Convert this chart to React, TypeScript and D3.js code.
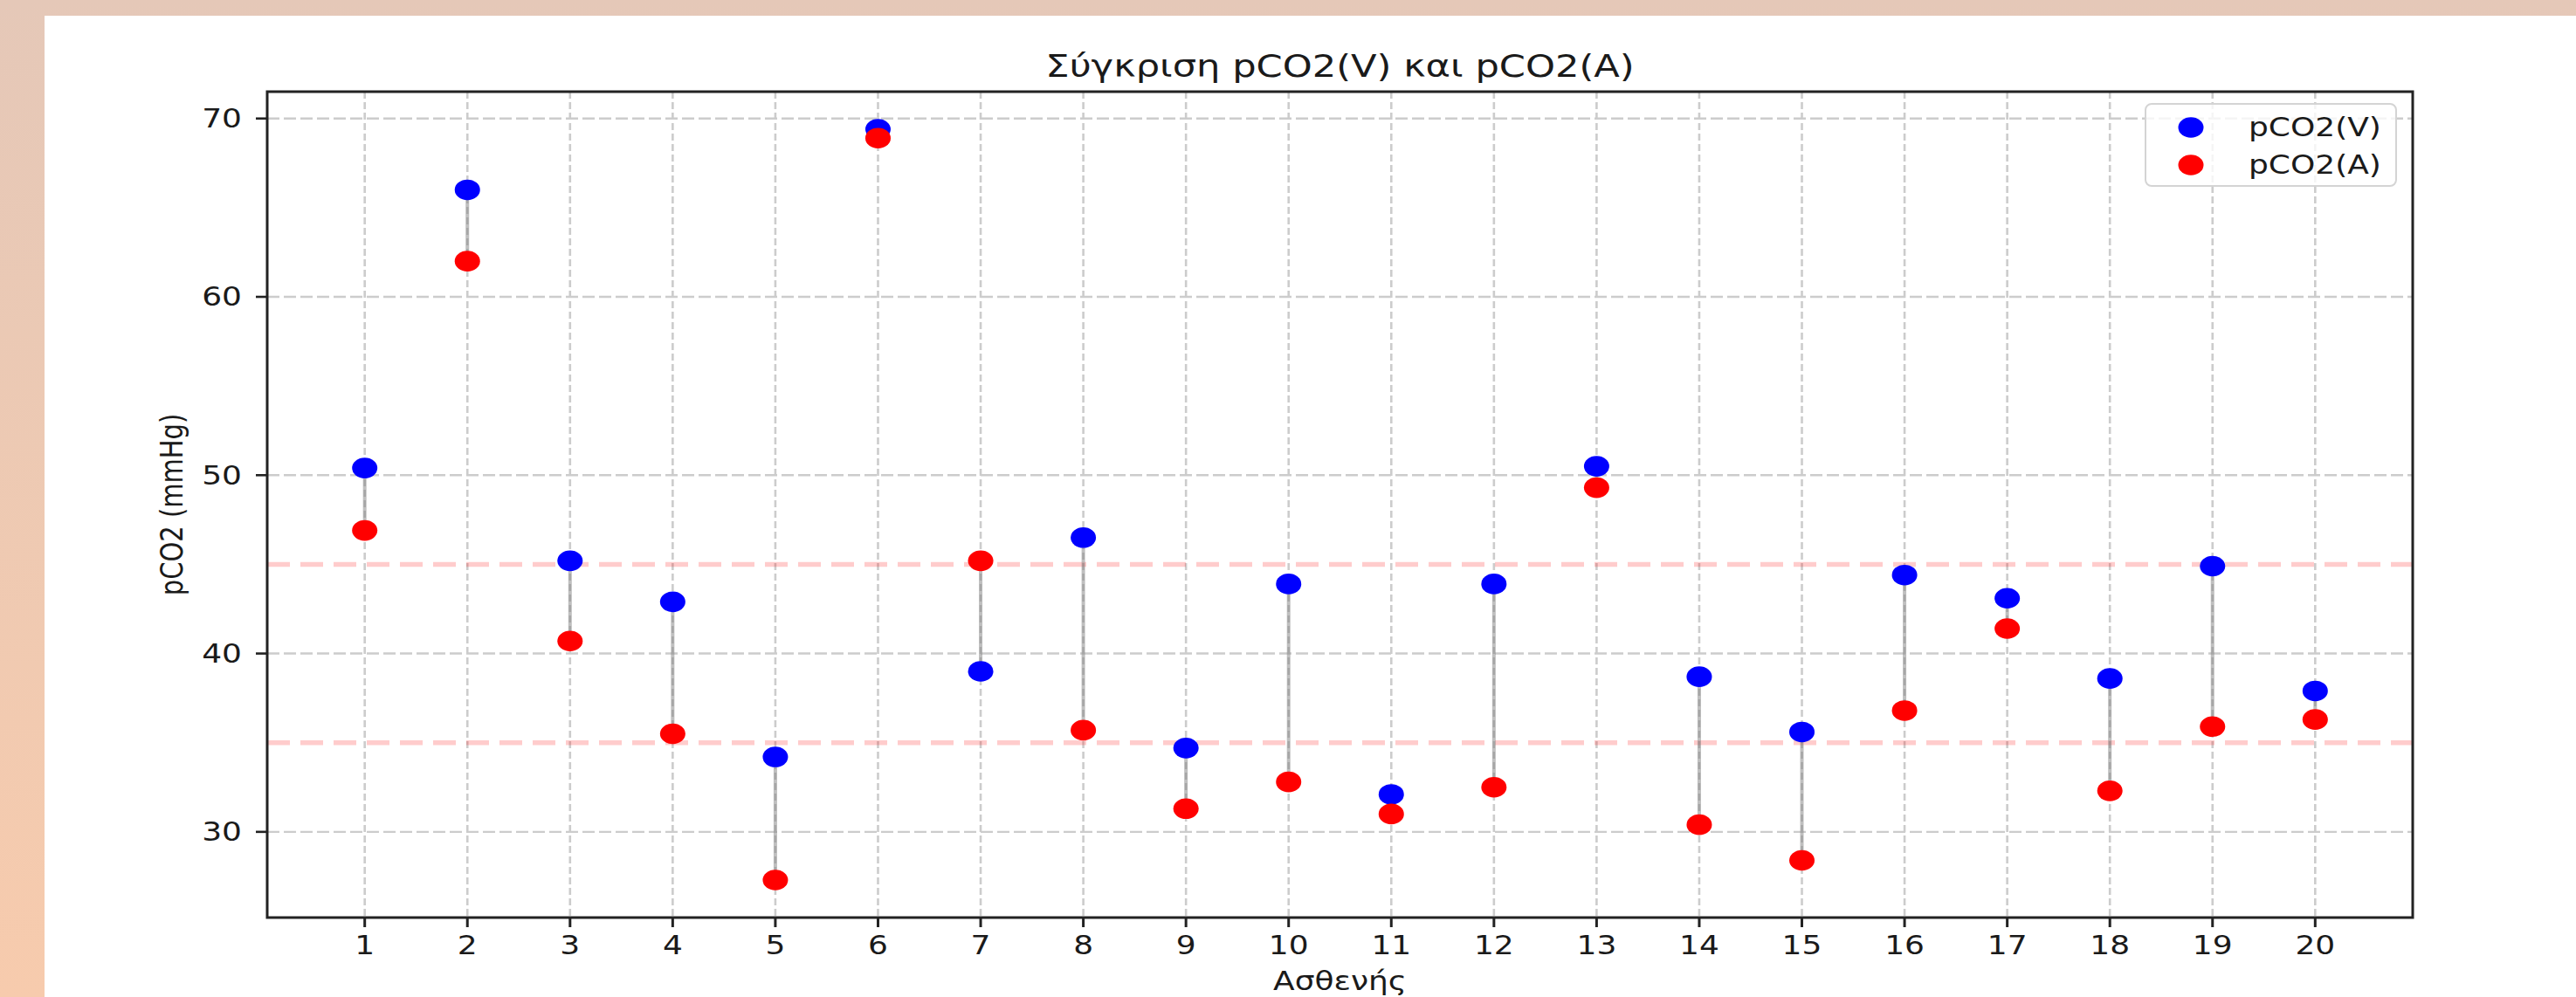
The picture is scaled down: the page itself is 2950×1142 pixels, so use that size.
import * as d3 from 'd3';
import React from 'react';

// Patient numbers and the two measured series (mmHg)
const patients = [1, 2, 3, 4, 5, 6, 7, 8, 9, 10, 11, 12, 13, 14, 15, 16, 17, 18, 19, 20];
const pco2V = [50.4, 66.0, 45.2, 42.9, 34.2, 69.4, 39.0, 46.5, 34.7, 43.9, 32.1, 43.9, 50.5, 38.7, 35.6, 44.4, 43.1, 38.6, 44.9, 37.9];
const pco2A = [46.9, 62.0, 40.7, 35.5, 27.3, 68.9, 45.2, 35.7, 31.3, 32.8, 31.0, 32.5, 49.3, 30.4, 28.4, 36.8, 41.4, 32.3, 35.9, 36.3];
const normalRange = [35, 45];
const yTicks = [30, 40, 50, 60, 70];
const seriesNames = ['pCO2(V)', 'pCO2(A)'];
const seriesColors = ['#0000ff', '#ff0000'];

const W = 2950;
const H = 1142;
const margin = { top: 105, right: W - 2763, bottom: H - 1051, left: 306 };
const SX = 1.2; // the picture is a bit wider than tall
const font = '"DejaVu Sans", sans-serif';
const textColor = '#1a1a1a';

function T(props: any) {
    const { x, y, rotate, children, ...rest } = props;
    const tr = 'translate(' + x + ',' + y + ') scale(' + SX + ',1)' + (rotate ? ' rotate(' + rotate + ')' : '');
    return (
        <text transform={tr} fontFamily={font} fill={textColor} {...rest}>
            {children}
        </text>
    );
}

export default function App() {
    const x0 = margin.left, x1 = W - margin.right;
    const y0 = margin.top, y1 = H - margin.bottom;

    // matplotlib style 5% margins
    const xs = d3.extent(patients) as [number, number];
    const xPad = (xs[1] - xs[0]) * 0.05;
    const x = d3.scaleLinear().domain([xs[0] - xPad, xs[1] + xPad]).range([x0, x1]);

    const all = pco2V.concat(pco2A);
    const ys = d3.extent(all) as [number, number];
    const yPad = (ys[1] - ys[0]) * 0.05;
    const y = d3.scaleLinear().domain([ys[0] - yPad, ys[1] + yPad]).range([y1, y0]);

    const rx = 14.5, ry = 11.8;
    const legendX = 2457, legendY = 119;

    return (
        <svg width={W} height={H} style={{ position: 'absolute', left: 0, top: 0 }}>
            <defs>
                <linearGradient id="bg" x1="0" y1="0" x2="0" y2="1">
                    <stop offset="0" stopColor="#e5c8b8" />
                    <stop offset="1" stopColor="#f7cbad" />
                </linearGradient>
            </defs>
            <rect x={0} y={0} width={W} height={H} fill="url(#bg)" />
            <rect x={51} y={18} width={W - 51} height={H - 18} fill="#ffffff" />

            {/* grid */}
            {patients.map(p => (
                <line key={'gx' + p} x1={x(p)} x2={x(p)} y1={y0} y2={y1}
                    stroke="#cccccc" strokeWidth={2.6} strokeDasharray="8,4" />
            ))}
            {yTicks.map(t => (
                <line key={'gy' + t} x1={x0} x2={x1} y1={y(t)} y2={y(t)}
                    stroke="#cccccc" strokeWidth={2.4} strokeDasharray="14,5" />
            ))}

            {/* normal range */}
            {normalRange.map(v => (
                <line key={'ref' + v} x1={x0} x2={x1} y1={y(v)} y2={y(v)}
                    stroke="#ff0000" strokeOpacity={0.2} strokeWidth={5.5} strokeDasharray="26,12" />
            ))}

            {/* connectors */}
            {patients.map((p, i) => (
                <line key={'c' + p} x1={x(p)} x2={x(p)} y1={y(pco2V[i])} y2={y(pco2A[i])}
                    stroke="#808080" strokeOpacity={0.5} strokeWidth={4} />
            ))}

            {patients.map((p, i) => (
                <ellipse key={'v' + p} cx={x(p)} cy={y(pco2V[i])} rx={rx} ry={ry} fill={seriesColors[0]} />
            ))}
            {patients.map((p, i) => (
                <ellipse key={'a' + p} cx={x(p)} cy={y(pco2A[i])} rx={rx} ry={ry} fill={seriesColors[1]} />
            ))}

            {/* frame */}
            <rect x={x0} y={y0} width={x1 - x0} height={y1 - y0} fill="none" stroke="#222" strokeWidth={3} />

            {/* x axis */}
            {patients.map(p => (
                <g key={'xt' + p}>
                    <line x1={x(p)} x2={x(p)} y1={y1} y2={y1 + 11} stroke="#222" strokeWidth={3} />
                    <T x={x(p)} y={1093} textAnchor="middle" fontSize={30}>{p}</T>
                </g>
            ))}
            {/* y axis */}
            {yTicks.map(t => (
                <g key={'yt' + t}>
                    <line x1={x0 - 13} x2={x0} y1={y(t)} y2={y(t)} stroke="#222" strokeWidth={2.6} />
                    <T x={x0 - 29} y={y(t)} textAnchor="end" dominantBaseline="central" fontSize={30}>{t}</T>
                </g>
            ))}

            <T x={(x0 + x1) / 2} y={88} textAnchor="middle" fontSize={36}>Σύγκριση pCO2(V) και pCO2(A)</T>
            <T x={(x0 + x1) / 2} y={1134} textAnchor="middle" fontSize={30}>Ασθενής</T>
            <T x={197} y={(y0 + y1) / 2} rotate={-90} textAnchor="middle" dominantBaseline="central" fontSize={29}>pCO2 (mmHg)</T>

            {/* legend */}
            <rect x={legendX} y={legendY} width={287} height={94} rx={7}
                fill="#ffffff" fillOpacity={0.8} stroke="#d4d4d4" strokeWidth={2} />
            {seriesNames.map((s, i) => (
                <g key={'lg' + s}>
                    <ellipse cx={legendX + 52} cy={legendY + 27 + i * 43} rx={rx} ry={ry} fill={seriesColors[i]} />
                    <T x={legendX + 118} y={legendY + 27 + i * 43} dominantBaseline="central" fontSize={30}>{s}</T>
                </g>
            ))}
        </svg>
    );
}
